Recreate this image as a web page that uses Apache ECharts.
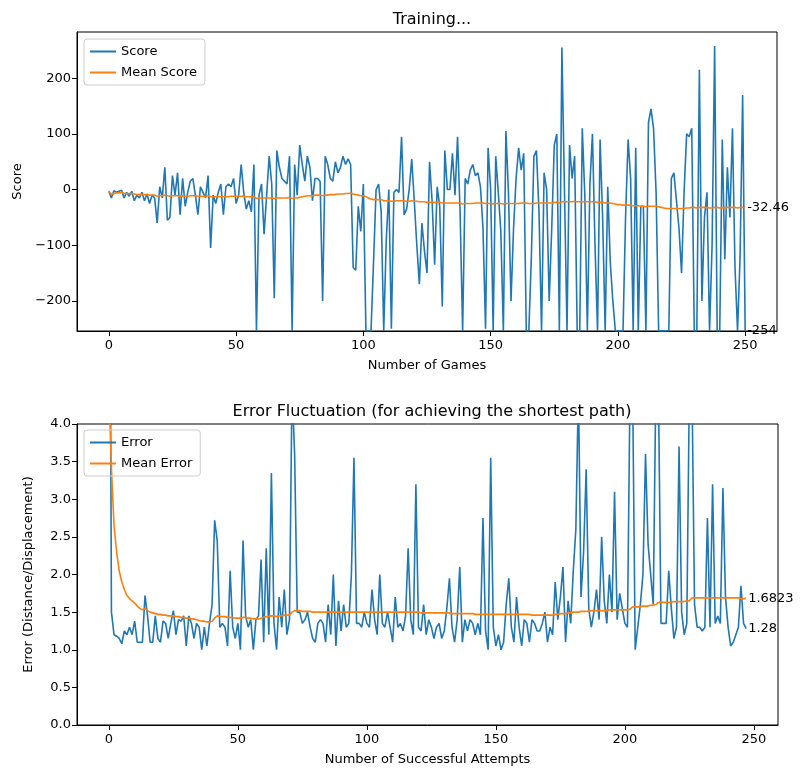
<!DOCTYPE html>
<html>
<head>
<meta charset="utf-8">
<script src="https://cdn.jsdelivr.net/npm/echarts@6/dist/echarts.min.js"></script>
<style>html,body{margin:0;padding:0;background:#fff}#main{width:801px;height:778px}</style>
</head>
<body>
<div id="main"></div>
<script>
// score per game (0..250)
const scores = [
  -3,-15,-2,-5,-3,-1,-15,-5,-12,-3,
  -20,-10,-15,-5,-20,-8,-25,-10,-15,-60,
  5,-15,40,-55,-50,25,-10,30,-45,20,
  -30,-5,15,20,-10,-45,5,-5,-15,25,
  -105,-10,-25,-5,10,-45,5,10,5,20,
  -25,-10,45,-5,-35,-20,-40,45,-254,-10,
  10,-80,-10,60,10,-195,70,40,20,15,
  10,60,-254,45,-10,80,45,15,60,40,
  -20,20,20,15,-200,60,45,20,15,50,
  30,40,60,45,55,45,-140,-145,-30,-75,
  10,-254,-254,-254,-130,0,10,-40,-254,-90,
  0,-250,-5,0,-5,95,-45,-35,0,55,
  -20,-100,-170,-60,-110,-150,50,-20,-135,5,
  -30,-210,70,0,0,65,-10,95,-40,-254,
  20,10,35,45,25,30,5,-70,-250,75,
  0,-254,60,-5,-75,-254,105,-5,-200,-70,
  20,75,35,65,-254,-254,-120,60,70,-40,
  -254,30,0,-200,-70,80,100,-254,255,0,
  -254,80,20,60,-254,-254,110,-10,-254,10,
  100,-100,-254,90,-50,-254,5,-130,-200,-254,
  -254,-254,-254,-50,90,20,-254,75,-254,-30,
  -30,-254,120,145,110,-5,-254,-254,-254,-254,
  -254,20,30,-20,-70,-150,-5,100,95,110,
  -254,-254,215,-200,-50,-5,-254,-100,258,-254,
  -254,90,-125,40,-50,110,-140,-254,-120,170,
  -254
];
const meanScores = [
  -3,-9,-7,-6,-6,-5,-7,-7,-7,-7,
  -8,-9,-9,-9,-9,-9,-10,-10,-10,-12,
  -11,-11,-10,-11,-12,-11,-11,-11,-12,-11,
  -12,-12,-11,-11,-11,-12,-12,-12,-12,-11,
  -13,-13,-13,-13,-13,-13,-13,-13,-12,-12,
  -12,-12,-12,-12,-13,-13,-13,-13,-16,-15,
  -15,-15,-15,-15,-15,-16,-15,-15,-15,-15,
  -15,-14,-16,-15,-15,-14,-13,-12,-11,-11,
  -11,-10,-10,-10,-11,-10,-10,-9,-9,-9,
  -8,-8,-8,-7,-7,-6,-8,-9,-10,-11,
  -11,-13,-15,-17,-18,-18,-18,-18,-20,-20,
  -20,-21,-21,-20,-20,-20,-20,-21,-21,-20,
  -21,-21,-22,-22,-22,-23,-23,-23,-23,-23,
  -23,-24,-24,-24,-24,-24,-24,-24,-24,-26,
  -25,-25,-25,-25,-24,-24,-24,-24,-25,-25,
  -25,-26,-25,-25,-25,-26,-25,-25,-25,-25,
  -25,-25,-24,-24,-24,-25,-25,-25,-24,-24,
  -24,-24,-24,-24,-24,-23,-23,-24,-22,-22,
  -22,-22,-22,-21,-22,-22,-22,-22,-22,-22,
  -22,-22,-23,-23,-23,-24,-24,-24,-25,-26,
  -27,-27,-28,-28,-28,-28,-29,-29,-29,-30,
  -30,-31,-30,-30,-30,-30,-31,-32,-33,-34,
  -34,-34,-34,-34,-34,-34,-34,-33,-33,-32,
  -32,-33,-32,-32,-32,-32,-33,-33,-32,-32,
  -33,-32,-33,-32,-32,-32,-32,-33,-32,-32,
  -32.46
];
// error per successful attempt (0..247)
const errors = [
  10,1.5,1.2,1.18,1.15,1.08,1.25,1.2,1.3,1.2,
  1.38,1.1,1.1,1.1,1.72,1.45,1.1,1.1,1.45,1.15,
  1.1,1.38,1.35,1.15,1.35,1.52,1.2,1.4,1.38,1.45,
  1.05,1.45,1.35,1.15,1.35,1.3,1.0,1.3,1.05,1.35,
  1.6,2.72,2.45,1.3,1.35,1.3,1.05,2.05,1.3,1.15,
  1.35,1.0,2.45,1.45,1.3,1.4,1.0,1.4,1.45,2.2,
  1.1,2.35,1.2,3.35,1.35,1.0,1.7,1.3,1.8,1.2,
  1.4,4.5,3.6,1.5,1.5,1.35,1.4,1.5,1.3,1.15,
  1.1,1.35,1.4,1.35,1.1,1.6,1.2,2.0,1.05,1.65,
  1.25,1.6,1.3,1.35,2.0,3.55,1.35,1.35,1.3,1.5,
  1.35,1.3,1.8,1.4,1.2,2.0,1.35,1.3,1.5,1.3,
  1.1,1.7,1.3,1.35,1.25,1.45,2.35,1.4,1.2,3.2,
  1.3,1.25,1.6,1.2,1.4,1.3,1.15,1.3,1.35,1.15,
  1.25,1.55,1.95,1.3,1.1,1.4,2.1,1.1,1.4,1.25,
  1.4,1.35,1.2,1.35,1.2,2.75,1.25,1.0,3.55,1.3,
  1.05,1.2,1.0,1.1,1.6,1.95,1.3,1.1,1.7,1.3,
  1.05,1.4,1.35,1.1,1.4,1.35,1.25,1.25,1.35,1.5,
  1.1,1.3,1.2,1.9,1.4,1.7,2.1,1.1,1.65,1.35,
  2.05,2.6,4.5,1.7,2.3,3.4,1.55,1.3,1.5,1.8,
  1.4,2.5,1.65,1.35,2.0,1.5,3.1,1.4,1.75,1.55,
  1.35,1.3,4.5,4.5,1.0,1.3,1.6,2.0,3.6,2.4,
  2.0,1.6,4.5,4.5,1.35,1.35,1.35,2.05,1.55,1.15,
  1.3,3.7,1.5,1.2,1.35,4.5,4.5,1.6,1.3,1.3,
  1.25,1.3,2.75,1.3,3.2,1.35,1.45,1.35,3.15,1.7,
  1.3,1.05,1.1,1.2,1.3,1.85,1.35,1.28
];
const meanErrors = [
  4.5,3.4,2.65,2.3,2.05,1.9,1.8,1.72,1.68,1.65,
  1.62,1.58,1.55,1.53,1.55,1.52,1.5,1.49,1.48,1.47,
  1.47,1.46,1.46,1.45,1.45,1.45,1.44,1.44,1.43,1.43,
  1.42,1.42,1.41,1.41,1.4,1.39,1.38,1.38,1.37,1.37,
  1.38,1.42,1.45,1.44,1.44,1.44,1.43,1.43,1.43,1.42,
  1.42,1.42,1.43,1.43,1.42,1.42,1.41,1.41,1.41,1.42,
  1.43,1.44,1.44,1.45,1.45,1.44,1.45,1.45,1.46,1.46,
  1.46,1.5,1.52,1.52,1.52,1.51,1.51,1.51,1.51,1.5,
  1.5,1.5,1.5,1.5,1.5,1.5,1.5,1.5,1.5,1.5,
  1.5,1.5,1.5,1.5,1.5,1.5,1.5,1.5,1.5,1.5,
  1.5,1.5,1.5,1.5,1.5,1.5,1.5,1.5,1.5,1.5,
  1.5,1.5,1.5,1.5,1.5,1.5,1.5,1.5,1.5,1.5,
  1.5,1.49,1.49,1.49,1.49,1.49,1.49,1.49,1.49,1.49,
  1.49,1.49,1.49,1.48,1.48,1.48,1.48,1.48,1.48,1.48,
  1.48,1.48,1.47,1.47,1.47,1.47,1.47,1.47,1.47,1.47,
  1.47,1.47,1.47,1.47,1.47,1.47,1.47,1.47,1.47,1.47,
  1.47,1.47,1.47,1.47,1.46,1.46,1.46,1.46,1.46,1.46,
  1.46,1.46,1.46,1.47,1.47,1.48,1.48,1.48,1.49,1.49,
  1.5,1.5,1.5,1.51,1.51,1.51,1.51,1.52,1.52,1.52,
  1.52,1.52,1.52,1.52,1.53,1.53,1.53,1.53,1.53,1.53,
  1.53,1.53,1.54,1.57,1.57,1.57,1.57,1.58,1.58,1.58,
  1.59,1.59,1.6,1.63,1.63,1.63,1.63,1.63,1.63,1.64,
  1.64,1.64,1.64,1.64,1.65,1.65,1.69,1.69,1.69,1.69,
  1.69,1.69,1.69,1.69,1.69,1.69,1.69,1.69,1.69,1.69,
  1.69,1.69,1.69,1.69,1.69,1.68,1.68,1.6823
];
const gameTicks = [0, 50, 100, 150, 200, 250];
const scoreTicks = [-200, -100, 0, 100, 200];
const errorTicks = [0, 0.5, 1.0, 1.5, 2.0, 2.5, 3.0, 3.5, 4.0];

const font = 'DejaVu Sans';
const blue = '#1f77b4', orange = '#ff7f0e';
const pts = arr => arr.map((v, i) => [i, v]);

function xAx(idx, min, max, name) {
  return {
    type: 'value', gridIndex: idx, min: min, max: max, name: name,
    nameLocation: 'middle', nameGap: 28,
    nameTextStyle: { fontFamily: font, fontSize: 13, color: '#000' },
    splitLine: { show: false },
    axisLine: { onZero: false, lineStyle: { color: '#000' } },
    axisTick: { customValues: gameTicks, length: 5, lineStyle: { color: '#000' } },
    axisLabel: { customValues: gameTicks, fontFamily: font, fontSize: 13, color: '#000', margin: 8 }
  };
}
function yAx(idx, min, max, name, ticks, fmt) {
  return {
    type: 'value', gridIndex: idx, min: min, max: max, name: name,
    nameLocation: 'middle', nameGap: idx === 0 ? 52 : 42,
    nameTextStyle: { fontFamily: font, fontSize: 13, color: '#000' },
    splitLine: { show: false },
    axisLine: { onZero: false, lineStyle: { color: '#000' } },
    axisTick: { customValues: ticks, length: 5, lineStyle: { color: '#000' } },
    axisLabel: { customValues: ticks, fontFamily: font, fontSize: 13, color: '#000', margin: 6,
      formatter: fmt }
  };
}
function line(name, data, xi, color, z) {
  return {
    name: name, type: 'line', xAxisIndex: xi, yAxisIndex: xi, data: data,
    showSymbol: false, symbol: 'none', clip: true, z: z,
    lineStyle: { color: color, width: 1.6 }, itemStyle: { color: color },
    endLabel: { show: true, distance: 2, fontFamily: font, fontSize: 13, color: '#000',
      formatter: p => String(p.value[1]) }
  };
}

const chart = echarts.init(document.getElementById('main'));
chart.setOption({
  animation: false,
  backgroundColor: '#fff',
  title: [
    { text: 'Training...', left: 427, top: 7, textAlign: 'center',
      textStyle: { fontFamily: font, fontSize: 16, fontWeight: 'normal', color: '#000' } },
    { text: 'Error Fluctuation (for achieving the shortest path)', left: 427, top: 399, textAlign: 'center',
      textStyle: { fontFamily: font, fontSize: 16, fontWeight: 'normal', color: '#000' } }
  ],
  legend: [
    { data: ['Score', 'Mean Score'], orient: 'vertical', left: 84, top: 39, padding: [6, 8, 6, 6],
      itemWidth: 26, itemHeight: 2, itemGap: 8, icon: 'rect',
      borderColor: '#ccc', borderWidth: 1, borderRadius: 3,
      textStyle: { fontFamily: font, fontSize: 13, color: '#000' } },
    { data: ['Error', 'Mean Error'], orient: 'vertical', left: 84, top: 430, padding: [6, 8, 6, 6],
      itemWidth: 26, itemHeight: 2, itemGap: 8, icon: 'rect',
      borderColor: '#ccc', borderWidth: 1, borderRadius: 3,
      textStyle: { fontFamily: font, fontSize: 13, color: '#000' } }
  ],
  grid: [
    { left: 77, top: 32, width: 700, height: 299, show: true, borderColor: '#000', borderWidth: 1 },
    { left: 77, top: 424, width: 701, height: 301, show: true, borderColor: '#000', borderWidth: 1 }
  ],
  xAxis: [
    xAx(0, -12.5, 262.5, 'Number of Games'),
    xAx(1, -12.35, 259.35, 'Number of Successful Attempts')
  ],
  yAxis: [
    yAx(0, -254, 283, 'Score', scoreTicks, v => String(v).replace('-', '\u2212')),
    yAx(1, 0, 4, 'Error (Distance/Displacement)', errorTicks, v => v.toFixed(1))
  ],
  series: [
    line('Score', pts(scores), 0, blue, 2),
    line('Mean Score', pts(meanScores), 0, orange, 3),
    line('Error', pts(errors), 1, blue, 2),
    line('Mean Error', pts(meanErrors), 1, orange, 3)
  ]
});
</script>
</body>
</html>
